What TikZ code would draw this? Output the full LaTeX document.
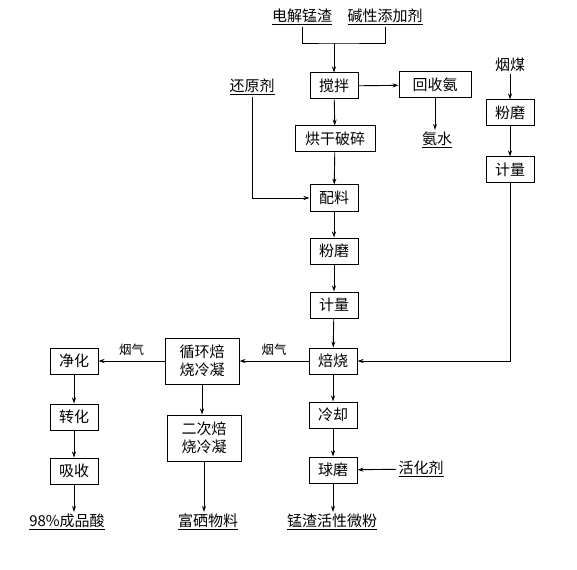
\documentclass[tikz,border=0pt]{standalone}
\usepackage{fontspec}
\setmainfont{Noto Sans CJK SC}
\usetikzlibrary{arrows.meta}

\begin{document}
\begin{tikzpicture}[
		x=1pt, y=-1pt,
		every node/.style={font=\fontsize{15pt}{18pt}\selectfont, inner sep=2pt},
		box/.style={rectangle, draw, line width=1pt, minimum width=48pt, minimum height=26pt, align=center},
		twoline/.style={box, minimum width=74pt, minimum height=46pt},
		gas/.style={font=\fontsize{12.5pt}{14pt}\selectfont},
		flow/.style={-{Stealth[length=6pt, width=4pt]}, line width=0.9pt}
	]
  \useasboundingbox (0,0) rectangle (577,569);
  % raw materials
  \node (slag) at (302, 17) {\underline{电解锰渣}};
  \node (additive) at (385, 17) {\underline{碱性添加剂}};
  \coordinate (join) at (334, 43);
  \node (reducer) at (252, 87) {\underline{还原剂}};
  \node (coal) at (510, 65) {烟煤};
  % main line
  \node (stir) [box] at (334, 86) {搅拌};
  \node (nh3) [box, minimum width=72pt] at (435, 85) {回收氨};
  \node (aq) at (437, 140) {\underline{氨水}};
  \node (dry) [box, minimum width=80pt] at (335, 139) {烘干破碎};
  \node (mix) [box] at (334, 198) {配料};
  \node (mill) [box] at (334, 251) {粉磨};
  \node (meter) [box] at (334, 305) {计量};
  \node (roast) [box] at (333, 361) {焙烧};
  \node (cool) [box] at (333, 415) {冷却};
  \node (ball) [box] at (333, 470) {球磨};
  \node (act) at (421, 469) {\underline{活化剂}};
  \node (powder) at (332, 522) {\underline{锰渣活性微粉}};
  % coal line
  \node (coalmill) [box] at (510, 113) {粉磨};
  \node (coalmeter) [box] at (510, 170) {计量};
  % flue gas
  \node (cycle) [twoline] at (202, 361) {循环焙\\烧冷凝};
  \node (second) [twoline] at (204, 438) {二次焙\\烧冷凝};
  \node (se) at (208, 522) {\underline{富硒物料}};
  \node (purify) [box] at (74, 361) {净化};
  \node (convert) [box] at (74, 417) {转化};
  \node (absorb) [box] at (74, 471) {吸收};
  \node (acid) at (67, 522) {\underline{98\%成品酸}};

  \draw [line width=0.9pt] (slag) |- (join) -| (additive);
  \draw [flow] (join) -- (stir);
  \draw [flow] (stir) edge (nh3);
  \draw [flow] (nh3) -- (nh3.south |- aq.north);
  \draw [flow] (stir) edge (dry);
  \draw [flow] (dry) edge (mix);
  \draw [flow] (reducer) |- (mix);
  \draw [flow] (mix) edge (mill);
  \draw [flow] (mill) edge (meter);
  \draw [flow] (meter) edge (roast);
  \draw [flow] (coal) edge (coalmill);
  \draw [flow] (coalmill) edge (coalmeter);
  \draw [flow] (coalmeter) |- (roast);
  \draw [flow] (roast) edge node [gas, above=3pt] {烟气} (cycle);
  \draw [flow] (cycle) edge node [gas, above=3pt] {烟气} (purify);
  \draw [flow] (purify) edge (convert);
  \draw [flow] (convert) edge (absorb);
  \draw [flow] (absorb) -- (absorb.south |- acid.north);
  \draw [flow] (cycle) -- (cycle.south |- second.north);
  \draw [flow] (second) -- (second.south |- se.north);
  \draw [flow] (roast) edge (cool);
  \draw [flow] (cool) edge (ball);
  \draw [flow] (act) edge (ball);
  \draw [flow] (ball) -- (ball.south |- powder.north);
\end{tikzpicture}
\end{document}
